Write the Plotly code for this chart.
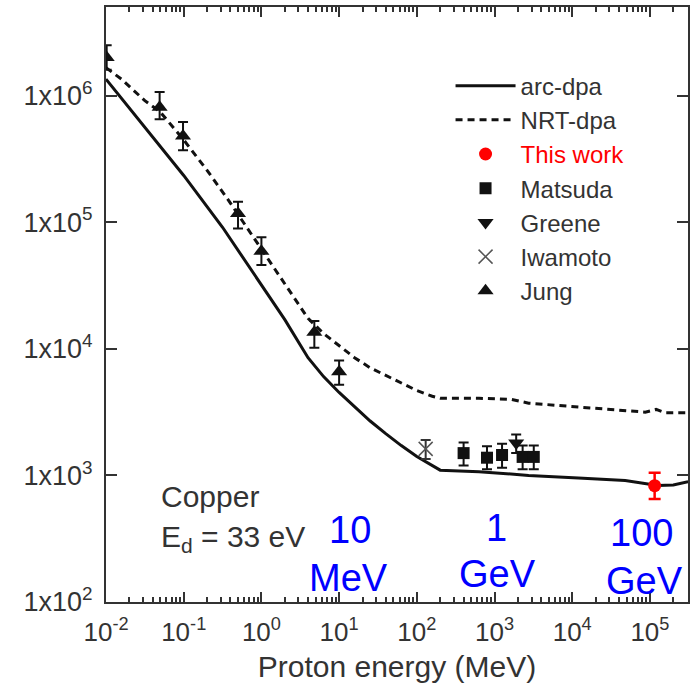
import plotly.graph_objects as go

# ---- curves (Proton energy MeV, dpa cross-section) ----
arc_E = [0.01, 0.0316, 0.1, 0.316, 1.0, 2.0, 3.98, 6.31, 10.0, 15.8, 25.1, 39.8, 63.1,
         100.0, 158.0, 200.0, 631.0, 2750.0, 12000.0, 48000.0, 126000.0, 200000.0, 310000.0]
arc_y = [1.35e6, 5.62e5, 2.34e5, 9.12e4, 3.24e4, 1.70e4, 8.51e3, 6.03e3, 4.52e3, 3.47e3,
         2.69e3, 2.14e3, 1.72e3, 1.41e3, 1.19e3, 1.10e3, 1.07e3, 1.0e3, 955, 912, 832, 840, 890]

nrt_E = [0.01, 0.0158, 0.0316, 0.0501, 0.1, 0.2, 0.372, 1.0, 2.0, 3.98, 6.31, 10.0, 15.8,
         25.1, 39.8, 63.1, 100.0, 158.0, 200.0, 631.0, 1660.0, 2750.0, 12000.0, 87000.0,
         120000.0, 158000.0, 310000.0]
nrt_y = [1.66e6, 1.35e6, 9.12e5, 7.41e5, 4.47e5, 2.57e5, 1.51e5, 6.17e4, 3.24e4, 1.74e4,
         1.32e4, 1.05e4, 8.51e3, 7.08e3, 6.17e3, 5.37e3, 4.68e3, 4.22e3, 4.07e3, 4.07e3,
         3.98e3, 3.72e3, 3.47e3, 3.16e3, 3.32e3, 3.13e3, 3.13e3]

# ---- data points ----
this_E = [1.15e5]
this_y = [830]
this_hi = [1050]
this_lo = [650]

mats_E = [400, 800, 1250, 2300, 3200]
mats_y = [1.5e3, 1.38e3, 1.45e3, 1.4e3, 1.4e3]
mats_hi = [1.82e3, 1.7e3, 1.78e3, 1.72e3, 1.72e3]
mats_lo = [1.2e3, 1.12e3, 1.15e3, 1.12e3, 1.12e3]

greene_E = [1900]
greene_y = [1.8e3]
greene_hi = [2.1e3]
greene_lo = [1.5e3]

iwa_E = [130]
iwa_y = [1.62e3]
iwa_hi = [1.9e3]
iwa_lo = [1.35e3]

jung_E = [0.0102, 0.049, 0.098, 0.50, 1.0, 4.8, 10.0]
jung_y = [2.0e6, 8.1e5, 4.8e5, 1.17e5, 5.9e4, 1.35e4, 6.6e3]
jung_hi = [2.5e6, 1.07e6, 6.2e5, 1.45e5, 7.6e4, 1.66e4, 8.1e3]
jung_lo = [1.6e6, 6.5e5, 3.7e5, 8.9e4, 4.6e4, 1.02e4, 5.2e3]

x_tickvals = [1e-2, 1e-1, 1e0, 1e1, 1e2, 1e3, 1e4, 1e5]
x_ticktext = ["10<sup>-2</sup>", "10<sup>-1</sup>", "10<sup>0</sup>", "10<sup>1</sup>",
              "10<sup>2</sup>", "10<sup>3</sup>", "10<sup>4</sup>", "10<sup>5</sup>"]
y_tickvals = [1e2, 1e3, 1e4, 1e5, 1e6]
y_ticktext = ["1x10<sup>2</sup>", "1x10<sup>3</sup>", "1x10<sup>4</sup>",
              "1x10<sup>5</sup>", "1x10<sup>6</sup>"]

X_RANGE = [-2, 5.49]
Y_RANGE = [2, 6.70]
minor_vals = [m * 10.0 ** d for d in range(-2, 6) for m in range(2, 10)
              if m * 10.0 ** d <= 10 ** X_RANGE[1]]


def err(y, hi, lo):
    return dict(type="data", symmetric=False,
                array=[h - v for h, v in zip(hi, y)],
                arrayminus=[v - l for l, v in zip(lo, y)])


FONT = "Liberation Sans, Arial, sans-serif"
AX = "#333333"
fig = go.Figure()

fig.add_trace(go.Scatter(x=arc_E, y=arc_y, mode="lines", name="arc-dpa",
                         line=dict(color="#111", width=3)))
fig.add_trace(go.Scatter(x=nrt_E, y=nrt_y, mode="lines", name="NRT-dpa",
                         line=dict(color="#111", width=3, dash="7px,5px")))
fig.add_trace(go.Scatter(x=this_E, y=this_y, mode="markers",
                         name="<span style='color:#ff0000'>This work</span>",
                         marker=dict(symbol="circle", size=13, color="#ff0000"),
                         error_y=dict(**err(this_y, this_hi, this_lo), color="#ff0000",
                                      thickness=2.5, width=6)))
fig.add_trace(go.Scatter(x=mats_E, y=mats_y, mode="markers", name="Matsuda",
                         marker=dict(symbol="square", size=12, color="#111"),
                         error_y=dict(**err(mats_y, mats_hi, mats_lo), color="#111",
                                      thickness=2, width=5)))
fig.add_trace(go.Scatter(x=greene_E, y=greene_y, mode="markers", name="Greene",
                         marker=dict(symbol="triangle-down", size=14, color="#111"),
                         error_y=dict(**err(greene_y, greene_hi, greene_lo), color="#111",
                                      thickness=2, width=5)))
fig.add_trace(go.Scatter(x=iwa_E, y=iwa_y, mode="markers", name="Iwamoto",
                         marker=dict(symbol="x-thin", size=14, color="#555",
                                     line=dict(color="#555", width=1.5)),
                         error_y=dict(**err(iwa_y, iwa_hi, iwa_lo), color="#333",
                                      thickness=2, width=5)))
fig.add_trace(go.Scatter(x=jung_E, y=jung_y, mode="markers", name="Jung",
                         marker=dict(symbol="triangle-up", size=14, color="#111"),
                         error_y=dict(**err(jung_y, jung_hi, jung_lo), color="#111",
                                      thickness=2, width=5)))

ann = []
blue = dict(family=FONT, size=38, color="#0000ff")
for txt, x, y in [("10", 0.4195, 0.121), ("MeV", 0.416, 0.040),
                  ("1", 0.671, 0.124), ("GeV", 0.673, 0.047),
                  ("100", 0.9195, 0.116), ("GeV", 0.926, 0.035)]:
    ann.append(dict(text=txt, x=x, y=y, xref="paper", yref="paper",
                    xanchor="center", yanchor="middle", showarrow=False, font=blue))
gray = dict(family=FONT, size=30, color="#333")
ann.append(dict(text="Copper", x=0.0905, y=0.178, xref="paper", yref="paper",
                xanchor="left", yanchor="middle", showarrow=False, font=gray))
ann.append(dict(text="E<sub>d</sub> = 33 eV", x=0.0905, y=0.106, xref="paper", yref="paper",
                xanchor="left", yanchor="middle", showarrow=False, font=gray))

fig.update_layout(
    width=694, height=694,
    margin=dict(l=106, r=4, t=7, b=92),
    paper_bgcolor="white", plot_bgcolor="white",
    font=dict(family=FONT, color="#333"),
    showlegend=True,
    legend=dict(x=0.592, y=0.905, xanchor="left", yanchor="top",
                bgcolor="rgba(0,0,0,0)", font=dict(family=FONT, size=24, color="#333"),
                itemwidth=60, tracegroupgap=0),
    annotations=ann,
    xaxis=dict(type="log", range=X_RANGE, tickmode="array",
               tickvals=x_tickvals, ticktext=x_ticktext,
               ticks="inside", ticklen=10, tickwidth=2, tickcolor=AX,
               showline=True, linecolor=AX, linewidth=2, mirror="allticks",
               showgrid=False, zeroline=False, ticklabelstandoff=6,
               tickfont=dict(family=FONT, size=26, color="#333"),
               minor=dict(tickmode="array", tickvals=minor_vals, ticks="inside",
                          ticklen=5, tickwidth=1.5, tickcolor=AX, showgrid=False),
               title=dict(text="Proton energy (MeV)", standoff=10,
                          font=dict(family=FONT, size=30, color="#333"))),
    yaxis=dict(type="log", range=Y_RANGE, tickmode="array",
               tickvals=y_tickvals, ticktext=y_ticktext,
               ticks="inside", ticklen=11, tickwidth=2, tickcolor=AX,
               showline=True, linecolor=AX, linewidth=2, mirror="allticks",
               showgrid=False, zeroline=False, ticklabelstandoff=6,
               tickfont=dict(family=FONT, size=27, color="#333")),
)

fig.write_html("out.html")
